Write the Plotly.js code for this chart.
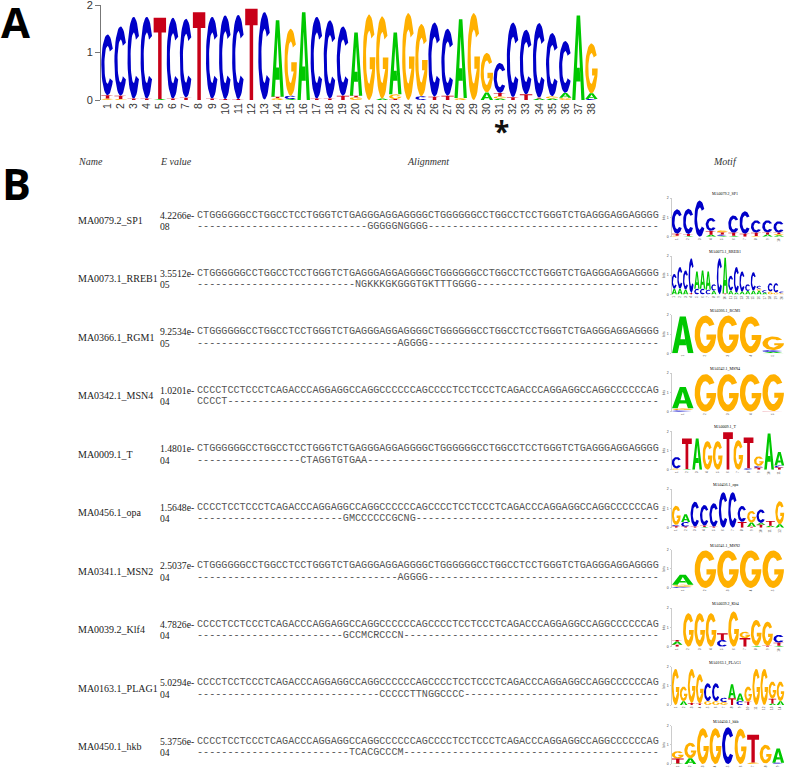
<!DOCTYPE html>
<html><head><meta charset="utf-8">
<script src="https://cdn.plot.ly/plotly-3.0.1.min.js"></script>
<style>html,body{margin:0;padding:0;background:#fff}#g{width:787px;height:769px}</style>
</head><body><div id="g"></div>
<script>
// ---------- DATA ----------
const names=["MA0079.2_SP1","MA0073.1_RREB1","MA0366.1_RGM1","MA0342.1_MSN4","MA0009.1_T","MA0456.1_opa","MA0341.1_MSN2","MA0039.2_Klf4","MA0163.1_PLAG1","MA0450.1_hkb"];
const logoTitles=["MA0079.2_SP1","MA0073.1_RREB1","MA0366.1_RGM1","MA0342.1_MSN4","MA0009.1_T","MA0456.1_opa","MA0341.1_MSN2","MA0039.2_Klf4","MA0163.1_PLAG1","MA0450.1_hkb"];
const eValues=["4.2266e-08","3.5512e-05","9.2534e-05","1.0201e-04","1.4801e-04","1.5648e-04","2.5037e-04","4.7826e-04","5.0294e-04","5.3756e-04"];
const seqA="CTGGGGGGCCTGGCCTCCTGGGTCTGAGGGAGGAGGGGCTGGGGGGCCTGGCCTCCTGGGTCTGAGGGAGGAGGGG";
const seqB="CCCCTCCTCCCTCAGACCCAGGAGGCCAGGCCCCCCAGCCCCTCCTCCCTCAGACCCAGGAGGCCAGGCCCCCCAG";
const targetSeq=[seqA,seqA,seqA,seqB,seqA,seqB,seqA,seqB,seqB,seqB];
const motifText=["GGGGGNGGGG","NGKKKGKGGGTGKTTTGGGG","AGGGG","CCCCT","CTAGGTGTGAA","GMCCCCCCGCNG","AGGGG","GCCMCRCCCN","CCCCCTTNGGCCCC","TCACGCCCM"];
const motifLead=[28,26,33,0,17,24,33,24,30,25];
const headers=["Name","E value","Alignment","Motif"];
const mainTicks=["1","2","3","4","5","6","7","8","9","10","11","12","13","14","15","16","17","18","19","20","21","22","23","24","25","26","27","28","29","30","31","32","33","34","35","36","37","38"];

// stacks run bottom to top: [letter, height in bits]
const mainLogo=[
[["G",.03],["T",.07],["C",1.28]],[["G",.02],["T",.07],["C",1.46]],[["T",.03],["C",1.72]],[["T",.03],["C",1.72]],
[["A",.02],["T",1.71]],[["T",.03],["C",1.70]],[["T",.05],["C",1.66]],[["T",1.85]],
[["T",.03],["C",1.72]],[["T",.02],["C",1.76]],[["T",.02],["C",1.77]],[["T",1.92]],
[["T",.01],["C",1.84]],[["G",.04],["T",.03],["A",1.61]],[["A",.02],["C",.07],["G",1.41]],[["A",1.85]],
[["T",.03],["C",1.72]],[["T",.03],["C",1.65]],[["T",.09],["C",1.46]],[["G",.06],["T",.03],["A",1.33]],
[["G",1.80]],[["A",.03],["G",1.73]],[["T",.02],["G",.1],["A",1.30]],[["G",1.83]],
[["C",.08],["G",1.52]],[["T",.07],["C",1.56]],[["T",.09],["C",1.41]],[["G",.04],["A",1.66]],
[["G",1.83]],[["A",.16],["G",.83]],[["A",.03],["G",.05],["T",.07],["C",.63]],[["T",.06],["C",1.57]],
[["T",.12],["C",1.36]],[["A",.03],["T",.02],["C",1.57]],[["A",.03],["G",.05],["C",1.33]],[["G",.05],["A",.1],["C",1.09]],
[["A",1.78]],[["C",.02],["A",.12],["G",1.05]]];

const logoSP1=[
[["G",.05],["T",.1],["C",1.27]],[["A",.04],["T",.1],["C",1.31]],[["C",1.88]],[["A",.1],["T",.2],["C",.67]],
[["A",.04],["C",.08],["T",.1],["G",.12]],[["A",.05],["T",.15],["C",.9]],[["T",.15],["C",1.17]],[["G",.04],["T",.17],["C",.64]],
[["A",.12],["T",.1],["C",.63]],[["A",.07],["G",.07],["T",.07],["C",.59]]];
const logoRREB1=[
[["A",.3],["C",.77]],[["A",.3],["C",1.13]],[["A",.25],["C",1.0]],[["T",.08],["C",1.8]],
[["C",.3],["A",.9]],[["C",.3],["A",.95]],[["C",.25],["A",.95]],[["A",.2],["C",.33]],
[["C",1.88]],[["T",.05],["A",1.86]],[["A",.2],["C",.78]],[["A",.1],["C",1.33]],
[["A",.15],["C",1.05]],[["A",.18],["C",.35]],[["A",.2],["C",.96]],[["A",.2],["G",.1],["C",.15]],
[["A",.1],["C",.13]],[["G",.15],["C",.44]],[["G",.1],["C",.49]],[["G",.06],["C",.1]]];
const logoRGM1=[[["A",1.91]],[["G",1.96]],[["G",1.96]],[["G",1.91]],[["A",.07],["C",.1],["G",.7]]];
const logoMSN4=[[["C",.08],["G",.1],["A",1.1]],[["G",1.95]],[["G",1.95]],[["G",1.95]],[["T",.03],["G",1.92]]];
const logoT=[
[["G",.07],["C",.6]],[["A",.04],["T",1.59]],[["A",1.63]],[["G",1.49]],[["G",1.49]],[["T",1.95]],
[["G",1.54]],[["C",.08],["T",1.6]],[["T",.1],["C",.1],["G",.5]],[["A",1.89]],[["T",.12],["C",.1],["A",.7]]];
const logoOpa=[
[["T",.07],["C",.07],["G",1.0]],[["T",.05],["C",.25],["A",.4]],[["T",.05],["C",1.3]],[["A",.04],["T",.06],["C",1.08]],
[["T",.05],["C",1.22]],[["C",1.84]],[["C",1.84]],[["T",.3],["C",.83]],
[["T",.05],["A",.22],["G",.6]],[["T",.15],["A",.1],["C",.7]],[["G",.03],["A",.07],["T",.25]],[["A",.18],["G",1.2]]];
const logoMSN2=[[["C",.07],["G",.1],["A",.52]],[["G",1.95]],[["G",1.95]],[["G",1.95]],[["G",1.95]]];
const logoKlf4=[
[["T",.1],["A",.17],["T",.08]],[["G",1.74]],[["G",1.74]],[["G",1.74]],[["C",.35],["T",.35]],
[["G",1.83]],[["T",.45],["G",.33]],[["A",.05],["G",1.34]],[["T",.05],["G",1.25]],[["A",.05],["T",.16],["C",.4]]];
const logoPLAG1=[
[["G",1.88]],[["A",.2],["G",.76]],[["T",.1],["G",1.78]],[["T",.08],["G",1.52]],[["G",.2],["C",.93]],[["G",.2],["C",.93]],
[["G",.15],["C",.23]],[["T",.35],["A",.73]],[["C",.2],["A",.4]],[["T",.17],["G",.79]],[["G",1.88]],[["G",1.88]],
[["A",.08],["T",.25],["G",.89]],[["A",.2],["G",1.02]]];
const logoHkb=[
[["A",.03],["T",.25],["G",.39]],[["A",.3],["G",.81]],[["G",1.86]],[["G",1.86]],[["C",1.91]],[["G",1.83]],
[["G",.08],["T",1.44]],[["T",.03],["G",.97]],[["G",.02],["C",.05],["A",.73]]];
const smallLogos=[logoSP1,logoRREB1,logoRGM1,logoMSN4,logoT,logoOpa,logoMSN2,logoKlf4,logoPLAG1,logoHkb];

// ---------- STYLE / LAYOUT ----------
const W=787,H=769;
const colors={A:"#00c800",C:"#0000c8",G:"#ffb000",T:"#c80018"};
const px=x=>x/W, py=y=>1-y/H;
const rowY=[215,273.4,331.9,390.3,448.8,507.2,565.6,624,682.5,741];
const logoBase=[236.7,294.5,353.3,411.7,469.8,527.7,588,646.7,705,764];

// unit-square letter outlines
function arc(rx,ry,a0,a1,n){const o=[];for(let i=0;i<=n;i++){const a=(a0+(a1-a0)*i/n)*Math.PI/180;o.push([.5+rx*Math.cos(a),.5+ry*Math.sin(a)]);}return o;}
const glyphs={
 T:[[0,1],[1,1],[1,.82],[.64,.82],[.64,0],[.36,0],[.36,.82],[0,.82]],
 A:[[0,0],[.36,1],[.64,1],[1,0],[.74,0],[.66,.22],[.61,.38],[.5,.78],[.39,.38],[.61,.38],[.66,.22],[.34,.22],[.26,0]],
 C:arc(.5,.5,32,328,36).concat(arc(.25,.31,315,45,30)),
 G:arc(.5,.5,32,360,36).concat([[.55,.5],[.55,.36],[.75,.36]],arc(.25,.31,315,45,30))
};
function logoTraces(stacks,xa,ya){
 const pts={A:[[],[]],C:[[],[]],G:[[],[]],T:[[],[]]};
 stacks.forEach((st,i)=>{let base=0;st.forEach(([l,h])=>{
   glyphs[l].forEach(([gx,gy])=>{pts[l][0].push(i+1+(gx-.5)*.95);pts[l][1].push(base+gy*h);});
   pts[l][0].push(null);pts[l][1].push(null);base+=h;});});
 return Object.keys(pts).filter(l=>pts[l][0].length).map(l=>({type:"scatter",mode:"lines",x:pts[l][0],y:pts[l][1],
   fill:"toself",fillcolor:colors[l],line:{width:0,color:colors[l]},hoverinfo:"skip",showlegend:false,xaxis:xa,yaxis:ya}));
}
const data=[],ann=[];
const layout={width:W,height:H,margin:{l:0,r:0,t:0,b:0},paper_bgcolor:"#fff",plot_bgcolor:"#fff",showlegend:false,annotations:ann};

// panel A
data.push(...logoTraces(mainLogo,"x","y"));
layout.xaxis={domain:[px(101),px(598)],range:[.5,38.5],tickmode:"array",tickvals:mainTicks.map(Number),ticktext:mainTicks,tickangle:-90,
  showgrid:false,zeroline:false,showline:false,ticks:"",tickfont:{family:"Liberation Sans",size:10.5,color:"#333"},anchor:"y",fixedrange:true};
layout.yaxis={domain:[py(100),py(5)],range:[0,2],tickmode:"array",tickvals:[0,1,2],ticktext:["0","1","2"],showgrid:false,zeroline:false,ticklabeloverflow:"allow",
  showline:true,linecolor:"#777",linewidth:1,ticks:"outside",ticklen:5,tickcolor:"#777",tickfont:{family:"Liberation Sans",size:11,color:"#333"},anchor:"x",fixedrange:true};

// small motif logos
smallLogos.forEach((st,k)=>{
 const id=k+2,xa="x"+id,ya="y"+id,b=logoBase[k];
 data.push(...logoTraces(st,xa,ya));
 const ticks=st.map((_,i)=>i+1);
 layout["xaxis"+id]={domain:[px(671.5),px(784.5)],range:[.5,st.length+.5],tickmode:"array",tickvals:ticks,ticktext:ticks.map(String),tickangle:-90,ticklabeloverflow:"allow",
   showgrid:false,zeroline:false,showline:false,ticks:"",tickfont:{family:"Liberation Sans",size:3,color:"#444"},anchor:ya,fixedrange:true};
 layout["yaxis"+id]={domain:[py(b),py(b-38.5)],range:[0,2],tickmode:"array",tickvals:[0,1,2],ticktext:["0","1","2"],showgrid:false,zeroline:false,
   showline:true,linecolor:"#999",linewidth:.5,ticks:"outside",ticklen:1.5,tickwidth:.5,tickcolor:"#999",tickfont:{family:"Liberation Sans",size:3.5,color:"#444"},
   title:{text:"bits",font:{family:"Liberation Sans",size:3.5,color:"#444"},standoff:1},anchor:xa,fixedrange:true};
 ann.push(txt(725,b-43,logoTitles[k],{family:"Liberation Serif",size:4,color:"#000"},"center"));
});

function txt(x,y,t,font,anchor){return {xref:"paper",yref:"paper",x:px(x),y:py(y),text:t,showarrow:false,xanchor:anchor||"left",yanchor:"middle",font:font,borderpad:0,borderwidth:0,align:"left"};}

const serif={family:"Liberation Serif",size:9.7,color:"#222"};
const nameFont={family:"Liberation Serif",size:10,color:"#222"};
const mono={family:"Liberation Mono",size:10.13,color:"#555"};
const hdrFont={family:"Liberation Serif",size:10,color:"#333"};
[78,160,407,713].forEach((x,i)=>{
  ann.push(txt(x,162,"<i>"+headers[i]+"</i>",hdrFont));
});
names.forEach((n,i)=>{
  const y=rowY[i];
  ann.push(txt(78,y+5.5,n,nameFont));
  const parts=eValues[i].split("-");
  ann.push(txt(160,y,parts[0]+"-",serif));
  ann.push(txt(160,y+11.5,parts[1],serif));
  ann.push(txt(197,y,targetSeq[i],mono));
  const m=motifText[i],lead=motifLead[i];
  ann.push(txt(197,y+11.5,"-".repeat(lead)+m+"-".repeat(76-lead-m.length),mono));
});
ann.push(txt(1,22,"<b>A</b>",{family:"Open Sans",size:42,color:"#000"}));
ann.push(txt(2,183,"<b>B</b>",{family:"Open Sans",size:43,color:"#000"}));
ann.push(txt(501,131,"<b>*</b>",{family:"Open Sans",size:28,color:"#111"},"center"));

Plotly.newPlot("g",data,layout,{staticPlot:true,displayModeBar:false});
</script></body></html>
